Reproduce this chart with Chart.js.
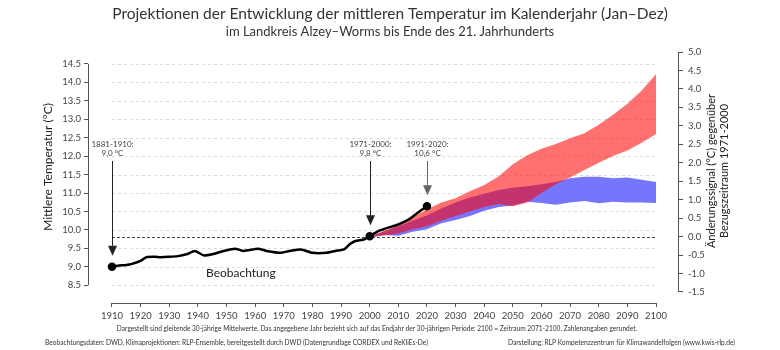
<!DOCTYPE html>
<html>
<head>
<meta charset="utf-8">
<script src="https://cdn.jsdelivr.net/npm/chart.js@4.4.1/dist/chart.umd.min.js"></script>
<style>
  body { margin: 0; background: #fff; }
  #wrap { width: 780px; height: 350px; }
</style>
</head>
<body>
<div id="wrap"><canvas id="chart"></canvas></div>
<script>
// observed 30-year running means (end year of period)
const obsYears = [1910, 1912, 1915, 1917, 1920, 1922, 1925, 1927, 1930, 1933, 1936, 1939, 1942, 1945, 1949,
  1953, 1956, 1961, 1964, 1969, 1972, 1976, 1980, 1985, 1988, 1991, 1993, 1995, 1998, 2000,
  2003, 2006, 2009, 2012, 2014, 2016, 2018, 2020];
const obsTemps = [9.00, 9.03, 9.05, 9.08, 9.16, 9.26, 9.27, 9.26, 9.27, 9.29, 9.34, 9.43, 9.31, 9.34, 9.43,
  9.49, 9.43, 9.49, 9.43, 9.38, 9.43, 9.47, 9.38, 9.38, 9.43, 9.47, 9.61, 9.70, 9.74, 9.83,
  9.97, 10.05, 10.12, 10.22, 10.30, 10.42, 10.53, 10.64];

// projection ensemble ranges
const projYears = [2001, 2005, 2010, 2015, 2020, 2025, 2030, 2035, 2040, 2045, 2050,
  2055, 2060, 2065, 2070, 2075, 2080, 2085, 2090, 2095, 2100];
const highUpper = [9.85, 9.98, 10.12, 10.35, 10.55, 10.74, 10.86, 11.05, 11.22, 11.45, 11.78,
  12.02, 12.20, 12.33, 12.48, 12.62, 12.85, 13.12, 13.42, 13.78, 14.22];
const highLower = [9.82, 9.85, 9.90, 10.02, 10.10, 10.25, 10.38, 10.50, 10.62, 10.70, 10.64,
  10.74, 11.00, 11.24, 11.42, 11.62, 11.82, 12.00, 12.15, 12.36, 12.60];
const lowUpper = [9.84, 9.96, 10.10, 10.25, 10.40, 10.58, 10.74, 10.88, 10.98, 11.08, 11.14,
  11.18, 11.24, 11.30, 11.40, 11.44, 11.44, 11.40, 11.42, 11.36, 11.30];
const lowLower = [9.80, 9.86, 9.84, 9.95, 10.02, 10.18, 10.27, 10.38, 10.52, 10.62, 10.66,
  10.76, 10.73, 10.68, 10.74, 10.78, 10.72, 10.76, 10.74, 10.74, 10.73];

const xTicks = [1910, 1920, 1930, 1940, 1950, 1960, 1970, 1980, 1990, 2000, 2010,
  2020, 2030, 2040, 2050, 2060, 2070, 2080, 2090, 2100];
const tempTicks = [8.5, 9.0, 9.5, 10.0, 10.5, 11.0, 11.5, 12.0, 12.5, 13.0, 13.5, 14.0, 14.5];
const changeTicks = [-1.5, -1.0, -0.5, 0.0, 0.5, 1.0, 1.5, 2.0, 2.5, 3.0, 3.5, 4.0, 4.5, 5.0];
const refMean = 9.82; // 1971-2000

const markYears = [1910, 2000, 2020];
const markPeriods = ['1881-1910:', '1971-2000:', '1991-2020:'];
const markValues = ['9,0 °C', '9,8 °C', '10,6 °C'];
const markColors = ['#222', '#222', '#666'];

const FONT = 'Lato';
const changeMin = -1.8, changeMax = 5.0;

function pts(xs, ys) {
  return xs.map((v, i) => ({ x: v, y: ys[i] }));
}

function arrow(ctx, px, top, tip, color) {
  ctx.strokeStyle = color;
  ctx.fillStyle = color;
  ctx.lineWidth = 1;
  ctx.beginPath();
  ctx.moveTo(px, top);
  ctx.lineTo(px, tip - 8);
  ctx.stroke();
  ctx.beginPath();
  ctx.moveTo(px - 4.5, tip - 10);
  ctx.lineTo(px + 4.5, tip - 10);
  ctx.lineTo(px, tip);
  ctx.closePath();
  ctx.fill();
}

const deco = {
  id: 'deco',
  beforeDatasetsDraw(chart) {
    const { ctx, scales: { x, y, y2 } } = chart;
    const x0 = x.getPixelForValue(xTicks[0]);
    const x1 = x.getPixelForValue(xTicks[xTicks.length - 1]);
    ctx.save();
    ctx.lineWidth = 1;
    ctx.setLineDash([3, 3]);
    ctx.strokeStyle = '#dcdcdc';
    tempTicks.forEach(v => {
      const py = Math.round(y.getPixelForValue(v)) + 0.5;
      ctx.beginPath();
      ctx.moveTo(x0, py);
      ctx.lineTo(x1, py);
      ctx.stroke();
    });
    ctx.setLineDash([3, 2]);
    ctx.strokeStyle = '#444';
    const py = Math.round(y2.getPixelForValue(0)) + 0.5;
    ctx.beginPath();
    ctx.moveTo(x0, py);
    ctx.lineTo(x1, py);
    ctx.stroke();
    ctx.restore();
  },
  afterDraw(chart) {
    const { ctx, chartArea: area, scales: { x, y, y2 } } = chart;
    ctx.save();
    // axis lines
    ctx.strokeStyle = '#555';
    ctx.lineWidth = 1;
    ctx.beginPath();
    ctx.moveTo(x.getPixelForValue(xTicks[0]), area.bottom + 0.5);
    ctx.lineTo(x.getPixelForValue(xTicks[xTicks.length - 1]), area.bottom + 0.5);
    ctx.moveTo(area.left + 0.5, y.getPixelForValue(tempTicks[tempTicks.length - 1]));
    ctx.lineTo(area.left + 0.5, y.getPixelForValue(tempTicks[0]));
    ctx.moveTo(area.right - 0.5, y2.getPixelForValue(changeTicks[changeTicks.length - 1]));
    ctx.lineTo(area.right - 0.5, y2.getPixelForValue(changeTicks[0]));
    ctx.stroke();

    // period markers
    ctx.textAlign = 'center';
    ctx.textBaseline = 'middle';
    ctx.font = '8px ' + FONT;
    markYears.forEach((yr, i) => {
      const px = Math.round(x.getPixelForValue(yr)) + 0.5;
      const py = y.getPixelForValue(obsTemps[obsYears.indexOf(yr)]);
      ctx.fillStyle = '#444';
      ctx.fillText(markPeriods[i], px, 144);
      ctx.fillText(markValues[i], px, 153);
      arrow(ctx, px, 161, py - 11, markColors[i]);
    });

    ctx.fillStyle = '#222';
    ctx.font = '12px ' + FONT;
    ctx.fillText('Beobachtung', x.getPixelForValue(1955), y.getPixelForValue(8.82));

    // axis titles
    ctx.fillStyle = '#222';
    ctx.save();
    ctx.translate(48, 167);
    ctx.rotate(-Math.PI / 2);
    ctx.fillText('Mittlere Temperatur (°C)', 0, 0);
    ctx.restore();
    ctx.font = '11px ' + FONT;
    ctx.save();
    ctx.translate(711, 171);
    ctx.rotate(-Math.PI / 2);
    ctx.fillText('Änderungssignal (°C) gegenüber', 0, 0);
    ctx.fillText('Bezugszeitraum 1971-2000', 0, 13);
    ctx.restore();

    // footnotes
    ctx.fillStyle = '#333';
    ctx.font = '6.6px ' + FONT;
    ctx.fillText('Dargestellt sind gleitende 30-jährige Mittelwerte. Das angegebene Jahr bezieht sich auf das Endjahr der 30-jährigen Periode: 2100 = Zeitraum 2071-2100. Zahlenangaben gerundet.', 377, 329);
    ctx.textAlign = 'left';
    ctx.fillText('Beobachtungsdaten: DWD, Klimaprojektionen: RLP-Ensemble, bereitgestellt durch DWD (Datengrundlage CORDEX und ReKliEs-De)', 45, 343);
    ctx.textAlign = 'right';
    ctx.fillText('Darstellung: RLP Kompetenzzentrum für Klimawandelfolgen (www.kwis-rlp.de)', 735, 343);
    ctx.restore();
  }
};

const tickFont = { family: FONT, size: 9.5 };

new Chart(document.getElementById('chart'), {
  type: 'line',
  data: {
    datasets: [
      {
        label: 'Beobachtung',
        data: pts(obsYears, obsTemps),
        yAxisID: 'y',
        borderColor: '#000',
        borderWidth: 2.5,
        tension: 0.2,
        fill: false,
        pointRadius: c => markYears.includes(obsYears[c.dataIndex]) ? 3 : 0,
        pointBackgroundColor: '#000',
        pointBorderColor: '#000'
      },
      {
        label: 'hoch min',
        data: pts(projYears, highLower),
        yAxisID: 'y',
        borderWidth: 0,
        pointRadius: 0,
        fill: false
      },
      {
        label: 'hoch max',
        data: pts(projYears, highUpper),
        yAxisID: 'y',
        borderWidth: 0,
        pointRadius: 0,
        fill: '-1',
        backgroundColor: 'rgba(255,0,0,0.56)'
      },
      {
        label: 'niedrig min',
        data: pts(projYears, lowLower),
        yAxisID: 'y',
        borderWidth: 0,
        pointRadius: 0,
        fill: false
      },
      {
        label: 'niedrig max',
        data: pts(projYears, lowUpper),
        yAxisID: 'y',
        borderWidth: 0,
        pointRadius: 0,
        fill: '-1',
        backgroundColor: 'rgb(118,118,252)'
      }
    ]
  },
  options: {
    responsive: true,
    maintainAspectRatio: false,
    animation: false,
    layout: { padding: 0 },
    plugins: {
      legend: { display: false },
      tooltip: { enabled: false },
      title: {
        display: true,
        text: 'Projektionen der Entwicklung der mittleren Temperatur im Kalenderjahr (Jan–Dez)',
        color: '#333',
        font: { family: FONT, size: 15.5, weight: 'normal' },
        padding: { top: 5, bottom: 0 }
      },
      subtitle: {
        display: true,
        text: 'im Landkreis Alzey–Worms bis Ende des 21. Jahrhunderts',
        color: '#333',
        font: { family: FONT, size: 13 },
        padding: { top: 0, bottom: 12.8 }
      }
    },
    scales: {
      x: {
        type: 'linear',
        min: 1901.62,
        max: 2108.03,
        afterBuildTicks: s => { s.ticks = xTicks.map(v => ({ value: v })); },
        afterFit: s => { s.height = 47; },
        border: { display: false },
        grid: { drawOnChartArea: false, tickLength: 4, color: '#555' },
        ticks: { font: tickFont, color: '#444', padding: 3, maxRotation: 0, autoSkip: false, callback: v => String(v) }
      },
      y: {
        position: 'left',
        min: changeMin + refMean,
        max: changeMax + refMean,
        afterBuildTicks: s => { s.ticks = tempTicks.map(v => ({ value: v })); },
        afterFit: s => { s.width = 88; },
        border: { display: false },
        grid: { drawOnChartArea: false, tickLength: 4, color: '#555' },
        ticks: { font: tickFont, color: '#444', padding: 3, callback: v => v.toFixed(1) }
      },
      y2: {
        position: 'right',
        min: changeMin,
        max: changeMax,
        afterBuildTicks: s => { s.ticks = changeTicks.map(v => ({ value: v })); },
        afterFit: s => { s.width = 101; },
        border: { display: false },
        grid: { drawOnChartArea: false, tickLength: 4, color: '#555' },
        ticks: { font: tickFont, color: '#444', padding: 5, crossAlign: 'near', callback: v => v.toFixed(1) }
      }
    }
  },
  plugins: [deco]
});
</script>
</body>
</html>
